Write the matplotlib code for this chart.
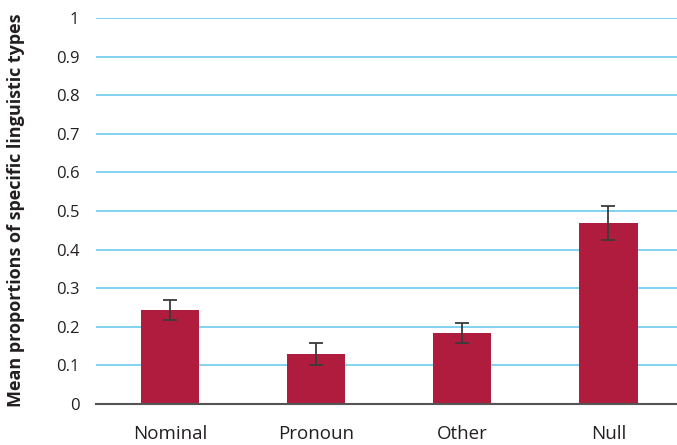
import numpy as np
import matplotlib.pyplot as plt

plt.rcParams['font.family'] = ['Open Sans', 'DejaVu Sans']

# data
categories = ['Nominal', 'Pronoun', 'Other', 'Null']
means = [0.243, 0.130, 0.184, 0.469]
errors = [0.026, 0.029, 0.026, 0.043]
y_ticks = [0, 0.1, 0.2, 0.3, 0.4, 0.5, 0.6, 0.7, 0.8, 0.9, 1]
y_tick_labels = ['0', '0.1', '0.2', '0.3', '0.4', '0.5', '0.6', '0.7', '0.8', '0.9', '1']

fig = plt.figure(figsize=(6.77, 4.45), dpi=100)
ax = fig.add_axes([96 / 677, 41 / 445, 581 / 677, 386 / 445])

x = np.arange(len(categories))
ax.bar(x, means, width=0.40, color='#AF1C3D', zorder=2)
ax.errorbar(x, means, yerr=errors, fmt='none', ecolor='#3a3a3a',
            elinewidth=1.3, capsize=5, capthick=1.3, zorder=3)

ax.set_xlim(-0.507, 3.47)
ax.set_ylim(0, 1)
ax.set_yticks(y_ticks)
ax.set_yticklabels(y_tick_labels)
ax.set_xticks(x)
ax.set_xticklabels(categories, fontsize=13.5, color='#231f20')

ax.yaxis.grid(True, color='#6ccbee', linewidth=1.2, zorder=0)
ax.set_axisbelow(True)
for s in ['top', 'right', 'left']:
    ax.spines[s].set_visible(False)
ax.spines['bottom'].set_color('#555555')
ax.spines['bottom'].set_linewidth(1.5)

ax.tick_params(axis='y', length=0, pad=12, labelsize=12, labelcolor='#231f20')
ax.tick_params(axis='x', length=0, pad=15)

ax.set_ylabel('Mean proportions of specific linguistic types', fontsize=13,
              fontweight='bold', color='#231f20')
ax.yaxis.set_label_coords(-0.122, 0.503)

fig.savefig('out.png', dpi=100)
